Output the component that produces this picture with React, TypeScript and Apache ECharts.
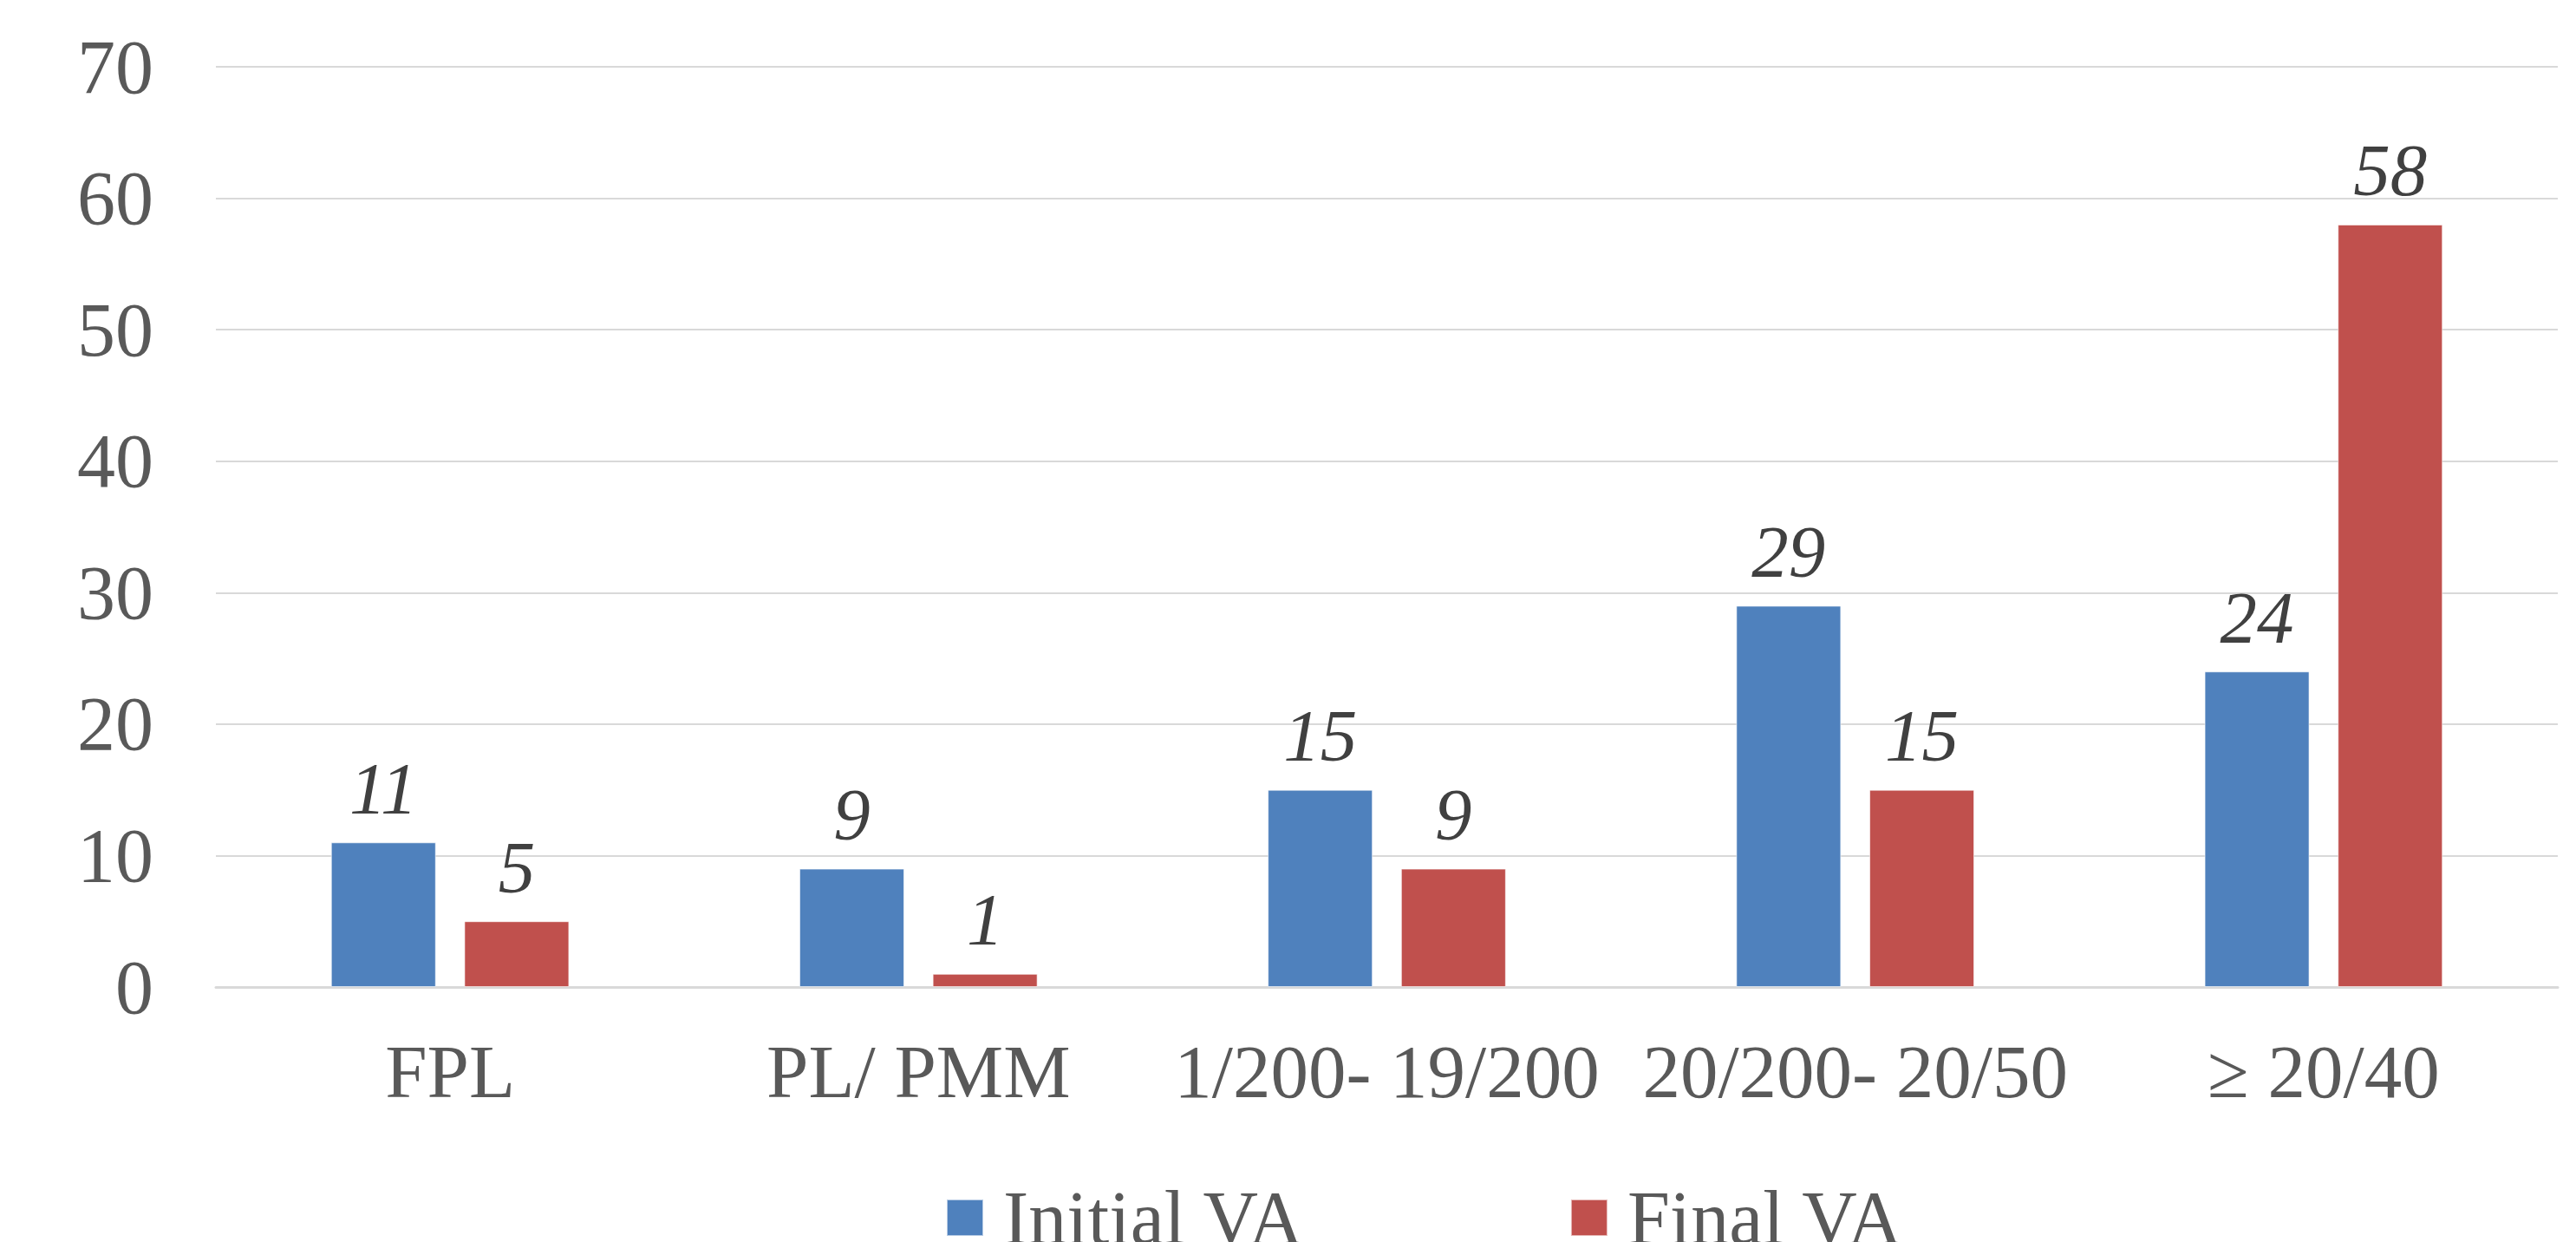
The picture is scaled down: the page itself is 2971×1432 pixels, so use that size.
import React, { useEffect, useRef } from "react";
import * as echarts from "echarts";

const categories = ["FPL", "PL/ PMM", "1/200- 19/200", "20/200- 20/50", "≥ 20/40"];
const initialVA = [11, 9, 15, 29, 24];
const finalVA = [5, 1, 9, 15, 58];
const seriesNames = ["Initial VA", "Final VA"];

const FONT = "'Liberation Serif', 'Times New Roman', serif";

export default function App() {
  const ref = useRef<HTMLDivElement>(null);
  useEffect(() => {
    document.body.style.margin = "0";
    const chart = echarts.init(ref.current!, undefined, { renderer: "svg" });
    const labelStyle = {
      show: true,
      position: "top" as const,
      distance: 20,
      fontFamily: FONT,
      fontStyle: "italic" as const,
      fontSize: 85,
      color: "#404040",
    };
    chart.setOption({
      animation: false,
      backgroundColor: "#ffffff",
      grid: { left: 249, right: 21, top: 77, bottom: 294 },
      legend: {
        data: seriesNames,
        left: 1091,
        top: 1360,
        padding: 0,
        itemWidth: 42,
        itemHeight: 42,
        itemGap: 306,
        icon: "rect",
        textStyle: {
          fontFamily: FONT,
          fontSize: 88,
          color: "#595959",
          padding: [0, 0, 0, 18],
        },
      },
      xAxis: {
        type: "category",
        data: categories,
        axisTick: { show: false },
        axisLine: { lineStyle: { color: "#D9D9D9", width: 3 } },
        axisLabel: {
          margin: 54,
          fontFamily: FONT,
          fontSize: 87,
          color: "#595959",
          interval: 0,
        },
      },
      yAxis: {
        type: "value",
        min: 0,
        max: 70,
        interval: 10,
        axisLine: { show: false },
        axisTick: { show: false },
        splitLine: { lineStyle: { color: "#D9D9D9", width: 2 } },
        axisLabel: {
          margin: 72,
          fontFamily: FONT,
          fontSize: 88,
          color: "#595959",
        },
      },
      series: [
        {
          name: seriesNames[0],
          type: "bar",
          data: initialVA,
          barWidth: 121,
          barGap: "27%",
          itemStyle: { color: "#4F81BD", borderColor: "rgba(255,255,255,0.6)", borderWidth: 1 },
          label: labelStyle,
        },
        {
          name: seriesNames[1],
          type: "bar",
          data: finalVA,
          barWidth: 121,
          barGap: "27%",
          itemStyle: { color: "#C0504D", borderColor: "rgba(255,255,255,0.6)", borderWidth: 1 },
          label: labelStyle,
        },
      ],
    });
    return () => chart.dispose();
  }, []);
  return <div ref={ref} style={{ width: 2971, height: 1432 }} />;
}
